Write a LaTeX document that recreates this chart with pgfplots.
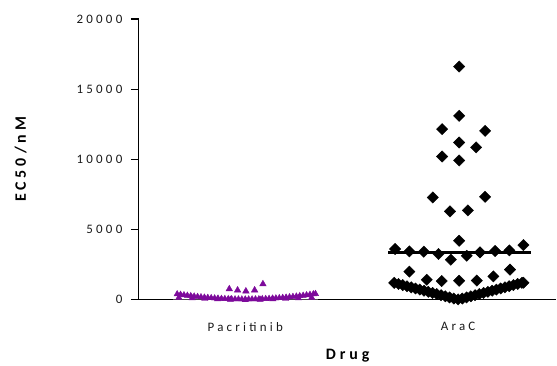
\documentclass[border=0pt]{standalone}
\usepackage{fontspec}
\setmainfont{Carlito}
\newfontfamily\spaced{Carlito}[LetterSpace=25]
\usepackage{pgfplots}
\pgfplotsset{compat=1.18}
\definecolor{purp}{RGB}{125,10,155}
\begin{document}
\begin{tikzpicture}
\begin{axis}[
 scale only axis, width=418bp, height=281bp,
 xmin=-0.5, xmax=1.462, ymin=0, ymax=20000,
 axis lines=left, axis line style={-, line width=1.2bp},
 clip=false, scaled y ticks=false,
 xtick={0,1}, xticklabels={Pacritinib, AraC},
 x tick style={draw=none},
 ytick={0,5000,10000,15000,20000}, yticklabels={0,5000,10000,15000,20000},
 tick align=outside, major tick length=8bp,
 y tick style={line width=1.2bp, black},
 tick label style={font=\spaced\fontsize{13}{15}\selectfont, text=black!90},
 xticklabel style={yshift=-11bp},
 yticklabel style={xshift=-5bp},
]
% Pacritinib median
\addplot[black!70, line width=1.5bp] coordinates {(-0.34,0) (0.34,0)};
% Pacritinib
\addplot[only marks, mark=triangle*, mark size=3.6bp, color=purp, mark options={fill=purp, draw=purp}] coordinates {
(-0.320,400) (-0.304,364) (-0.288,330) (-0.272,297) (-0.256,267) (-0.240,238) (-0.224,211)
(-0.208,186) (-0.192,163) (-0.176,142) (-0.160,123) (-0.144,105) (-0.128,89) (-0.112,75)
(-0.096,63) (-0.080,53) (-0.064,45) (-0.048,38) (-0.032,34) (-0.016,31) (0.000,30)
(0.016,31) (0.032,34) (0.048,38) (0.064,45) (0.080,53) (0.096,63) (0.112,75) (0.128,89)
(0.144,105) (0.160,123) (0.176,142) (0.192,163) (0.208,186) (0.224,211) (0.240,238)
(0.256,267) (0.272,297) (0.288,330) (0.304,364) (0.320,400) (0.330,420)
(-0.312,150) (-0.25,110) (-0.19,70) (-0.13,40) (-0.07,10) (0.0,-20) (0.07,10) (0.13,40) (0.19,70) (0.25,110) (0.312,150)
};
\addplot[only marks, mark=triangle*, mark size=3.8bp, color=purp, mark options={fill=purp, draw=purp}] coordinates {
(-0.075,760) (-0.036,675) (0.003,605) (0.044,675) (0.083,1115)
};
% AraC
\addplot[only marks, mark=square*, mark size=4bp, mark options={rotate=45, fill=black, draw=black}] coordinates {
(1.005,16610) (1.005,13100) (0.925,12150) (1.127,12030) (1.005,11200) (1.085,10850)
(0.925,10200) (1.005,9920)
(0.881,7285) (0.962,6290) (1.046,6360) (1.127,7330) (1.005,4200)
(0.704,3610) (0.771,3440) (0.839,3420) (0.908,3250) (0.966,2850) (1.041,3130)
(1.103,3370) (1.174,3470) (1.241,3510) (1.307,3890)
(0.771,2000) (1.244,2140)
(0.853,1420) (0.923,1330) (1.005,1350) (1.088,1360) (1.166,1660)
(0.700,1200) (0.720,1120) (0.740,1040) (0.760,960) (0.780,880) (0.800,800) (0.820,720)
(0.840,640) (0.860,560) (0.880,480) (0.900,400) (0.920,320) (0.940,240) (0.960,160)
(0.980,80) (1.000,20) (1.020,80) (1.040,160) (1.060,240) (1.080,320) (1.100,400)
(1.120,480) (1.140,560) (1.160,640) (1.180,720) (1.200,800) (1.220,880) (1.240,960)
(1.260,1040) (1.280,1120) (1.300,1200) (1.307,1210)
};
% AraC median
\addplot[black, line width=2.6bp] coordinates {(0.671,3370) (1.341,3370)};
\node[rotate=90, anchor=base, font=\spaced\bfseries\fontsize{16}{18}\selectfont, text=black] at ([xshift=-113bp]rel axis cs:0,0.5) {EC50/nM};
\node[anchor=base, font=\spaced\bfseries\fontsize{16}{18}\selectfont, text=black] at ([yshift=-60bp]rel axis cs:0.5,0) {Drug};
\path ([xshift=-139bp,yshift=-62bp]rel axis cs:0,0) rectangle ([yshift=19bp]rel axis cs:1,1);
\end{axis}
\end{tikzpicture}
\end{document}
